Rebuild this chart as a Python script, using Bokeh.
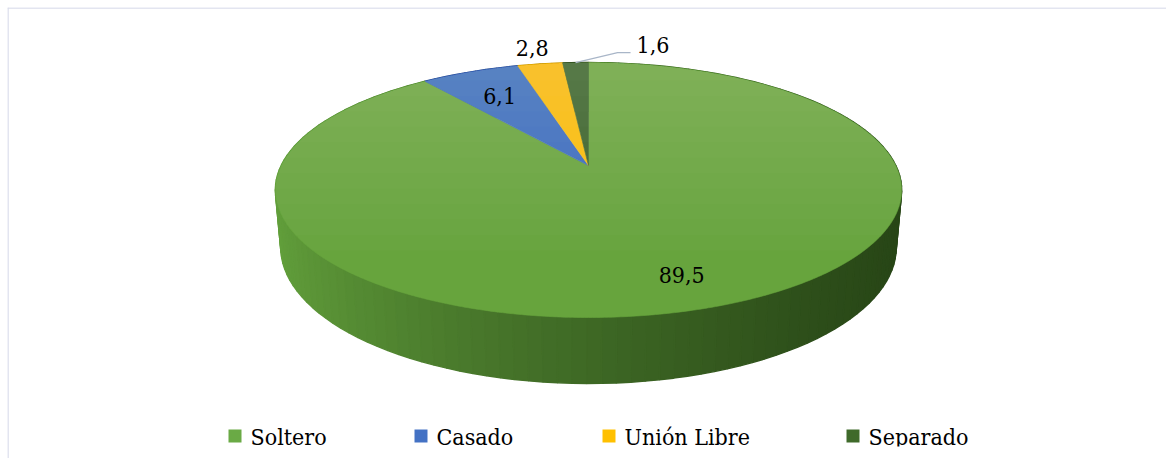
import numpy as np
from bokeh.plotting import figure
from bokeh.models import Range1d, Span
from bokeh.core.properties import value
from bokeh.embed import file_html
from bokeh.resources import INLINE

# ---------------- data ----------------
categories = ["Soltero", "Casado", "Unión Libre", "Separado"]
values = [89.5, 6.1, 2.8, 1.6]
value_labels = ["89,5", "6,1", "2,8", "1,6"]

# ---------------- style / layout ----------------
top_colors = ["#67A43D", "#3D6AC2", "#F9BC08", "#3C6126"]
side_colors = ["#3E6B27", "#2A4C8A", "#B58800", "#2A441B"]
legend_colors = ["#6AAA45", "#4472C4", "#FFC000", "#3F6A2A"]
label_modes = ["in", "in", "out", "leader"]
label_radius = [0.8, 0.72, 1.2, 1.0]
legend_left = [228, 414, 602, 846]          # picture px of legend squares
FONT = "DejaVu Serif Condensed"
FS = "23px"
TEXT_DY = 8.0                               # baseline correction (px)
CLIP_Y = 446                                # chart area bottom (picture px)

FIG_W, FIG_H = 1166, 458
OFF_X, OFF_Y = 7, 7                 # frame offset inside the figure
W, H = FIG_W - OFF_X, FIG_H - OFF_Y  # frame size

# 3-D perspective projection of a unit disc
TILT = np.radians(23.55)
C, S = np.cos(TILT), np.sin(TILT)
DIST = 4.767
FOC = 1465.0
DEPTH = 0.2022
APEX_X, APEX_Y = 588.0, 165.0   # picture px of the pie centre


def proj(r, t, z=0.0):
    X = r * np.cos(t)
    Y = r * np.sin(t)
    yc = Y * S + z * C
    zc = DIST + Y * C - z * S
    return APEX_X + FOC * X / zc, APEX_Y - FOC * yc / zc


def to_data(px, py):
    return np.asarray(px) - OFF_X, FIG_H - np.asarray(py)


p = figure(width=FIG_W, height=FIG_H, output_backend="svg", toolbar_location=None,
           x_range=Range1d(0, W), y_range=Range1d(0, H),
           min_border_left=OFF_X, min_border_top=OFF_Y,
           min_border_right=0, min_border_bottom=0)
p.axis.visible = False
p.grid.visible = False
p.outline_line_color = None
p.background_fill_color = "white"
p.border_fill_color = "white"

total = float(sum(values))
fr = np.cumsum([0.0] + [v / total for v in values])
t_start = np.pi / 2 - 2 * np.pi * fr[:-1]
t_end = np.pi / 2 - 2 * np.pi * fr[1:]


def hexc(rgb):
    return "#%02X%02X%02X" % tuple(int(round(c)) for c in rgb)


light = np.array([0x63, 0xA1, 0x3C], float)
dark = np.array([0x27, 0x45, 0x16], float)

# ---------- side walls ----------
quads = []
for i in range(len(values)):
    n = max(3, int(abs(t_end[i] - t_start[i]) / (2 * np.pi) * 160))
    ts = np.linspace(t_start[i], t_end[i], n + 1)
    for k in range(n):
        ta, tb = ts[k], ts[k + 1]
        xa, ya = proj(1.0, ta)
        xb, yb = proj(1.0, tb)
        xbb, ybb = proj(1.0, tb, -DEPTH)
        xab, yab = proj(1.0, ta, -DEPTH)
        xs = [xa, xb, xbb, xab]
        ys = [ya, yb, ybb, yab]
        if i == 0:
            f = np.clip((np.mean(xs) - 276) / (902 - 276), 0, 1) ** 0.7
            col = hexc(light + (dark - light) * f)
        else:
            col = side_colors[i]
        quads.append((np.sin((ta + tb) / 2), xs, ys, col))
quads.sort(key=lambda q: -q[0])
qx, qy, qc = [], [], []
for _, xs, ys, col in quads:
    dx, dy = to_data(xs, ys)
    qx.append(list(dx))
    qy.append(list(dy))
    qc.append(col)
p.patches(qx, qy, fill_color=qc, line_color=qc, line_width=1.4)

# ---------- top faces ----------
tx, ty = [], []
for i in range(len(values)):
    n = max(8, int(abs(t_end[i] - t_start[i]) / (2 * np.pi) * 600))
    ts = np.linspace(t_start[i], t_end[i], n + 1)
    ax, ay = proj(1.0, ts)
    xs = np.concatenate([[APEX_X], ax])
    ys = np.concatenate([[APEX_Y], ay])
    dx, dy = to_data(xs, ys)
    tx.append(list(dx))
    ty.append(list(dy))
p.patches(tx, ty, fill_color=top_colors, line_color=top_colors, line_width=0.6)

# light sheen towards the back of the top face
tt = np.linspace(0, 2 * np.pi, 720, endpoint=False)
ex, ey = proj(1.0, tt)


def clip_above(xs, ys, yk):
    """keep part of polygon with picture y <= yk"""
    out_x, out_y = [], []
    n = len(xs)
    for j in range(n):
        x1, y1 = xs[j - 1], ys[j - 1]
        x2, y2 = xs[j], ys[j]
        in1, in2 = y1 <= yk, y2 <= yk
        if in2:
            if not in1:
                a = (yk - y1) / (y2 - y1)
                out_x.append(x1 + a * (x2 - x1)); out_y.append(yk)
            out_x.append(x2); out_y.append(y2)
        elif in1:
            a = (yk - y1) / (y2 - y1)
            out_x.append(x1 + a * (x2 - x1)); out_y.append(yk)
    return out_x, out_y


ox, oy = [], []
for yk in np.linspace(80, 250, 12):
    cx_, cy_ = clip_above(ex, ey, yk)
    if len(cx_) > 2:
        dx, dy = to_data(cx_, cy_)
        ox.append(list(dx)); oy.append(list(dy))
p.patches(ox, oy, fill_color="white", fill_alpha=0.014, line_color=None)

# ---------- data labels ----------
mid = (t_start + t_end) / 2
for i, lab in enumerate(value_labels):
    if label_modes[i] in ("in", "out"):
        lx, ly = proj(label_radius[i], mid[i])
        dx, dy = to_data(lx, ly + 8.5 - TEXT_DY)
        p.text([dx], [dy], text=[lab], text_font=value(FONT), text_font_size=FS,
               text_align="center", text_baseline="alphabetic", text_color="black")
    else:
        sx, sy = proj(label_radius[i], mid[i])
        lxs = [sx, sx + 42, sx + 55]
        lys = [sy, sy - 10, sy - 10]
        dx, dy = to_data(lxs, lys)
        p.line(list(dx), list(dy), line_color="#A9B6C8", line_width=1.2)
        tdx, tdy = to_data(sx + 61, sy - 10 - TEXT_DY)
        p.text([tdx], [tdy], text=[lab], text_font=value(FONT), text_font_size=FS,
               text_align="left", text_baseline="alphabetic", text_color="black")

# ---------- legend ----------
for i, name in enumerate(categories):
    sx0 = legend_left[i]
    cx_, cy_ = to_data(sx0 + 6.5, 435.5)
    p.rect([cx_], [cy_], width=13, height=13, fill_color=legend_colors[i],
           line_color=None)
    tdx, tdy = to_data(sx0 + 22, 444 - TEXT_DY)
    p.text([tdx], [tdy], text=[name], text_font=value(FONT), text_font_size=FS,
           text_align="left", text_baseline="alphabetic", text_color="black")

# chart area ends at CLIP_Y: the legend row is cut there, as in the original
_, clip_top = to_data(0, CLIP_Y)
p.quad(left=[2], right=[W], bottom=[0], top=[float(clip_top)],
       fill_color="white", line_color=None)

# ---------- chart border (top and left visible) ----------
p.add_layout(Span(location=0.5, dimension="height", line_color="#DADDEB", line_width=1.5))
p.add_layout(Span(location=H - 0.5, dimension="width", line_color="#DADDEB", line_width=1.5))

open("out.html", "w").write(file_html(p, INLINE))
